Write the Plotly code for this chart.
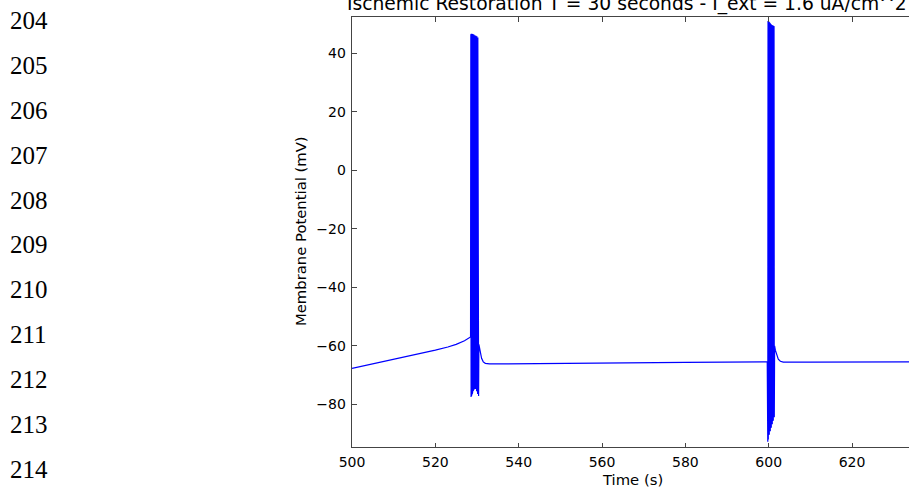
import plotly.graph_objects as go

# ---------------- data ----------------
line_numbers = ["204", "205", "206", "207", "208", "209", "210", "211", "212", "213", "214"]
title_text = "Ischemic Restoration T = 30 seconds - I_ext = 1.6 uA/cm^2"
x_label = "Time (s)"
y_label = "Membrane Potential (mV)"
x_ticks = [500, 520, 540, 560, 580, 600, 620]
y_ticks = [-80, -60, -40, -20, 0, 20, 40]

# slow depolarisation before first burst
t_pre = [500.0, 505.0, 510.0, 515.0, 520.0, 523.0, 525.0, 527.0, 528.45]
v_pre = [-67.7, -66.2, -64.7, -63.1, -61.5, -60.4, -59.5, -58.3, -57.0]

# first burst (spike peaks / troughs)
b1_peak_t = [528.52, 528.64, 528.76, 528.88, 529.00, 529.12, 529.24, 529.36,
             529.48, 529.60, 529.72, 529.84, 529.96, 530.08, 530.20, 530.32]
b1_peak_v = [46.5, 46.7, 46.7, 46.6, 46.6, 46.5, 46.4, 46.3,
             46.2, 46.1, 46.0, 45.9, 45.8, 45.6, 45.4, 45.2]
b1_trough_t = [528.58, 528.70, 528.82, 528.94, 529.06, 529.18, 529.30, 529.42,
               529.54, 529.66, 529.78, 529.90, 530.02, 530.14, 530.26, 530.38]
b1_trough_v = [-77.5, -77.2, -76.6, -76.0, -75.5, -75.0, -74.8, -74.6,
               -74.6, -74.8, -75.0, -75.5, -76.0, -76.5, -77.0, -77.2]

# recovery and plateau between bursts
t_mid = [530.45, 530.6, 530.8, 531.1, 531.5, 532.0, 533.0, 540.0, 560.0, 580.0, 599.65]
v_mid = [-59.5, -61.0, -62.6, -64.3, -65.5, -66.0, -66.2, -66.1, -65.9, -65.7, -65.5]

# second burst
b2_peak_t = [599.72, 599.84, 599.96, 600.08, 600.20, 600.32, 600.44,
             600.56, 600.68, 600.80, 600.92, 601.04, 601.16, 601.28]
b2_peak_v = [50.8, 51.0, 50.8, 50.6, 50.4, 50.2, 50.0,
             49.8, 49.6, 49.5, 49.4, 49.3, 49.2, 49.1]
b2_trough_t = [599.78, 599.90, 600.02, 600.14, 600.26, 600.38, 600.50,
               600.62, 600.74, 600.86, 600.98, 601.10, 601.22, 601.34]
b2_trough_v = [-92.8, -92.0, -91.2, -90.4, -89.8, -89.2, -88.6,
               -88.0, -87.4, -86.8, -86.2, -85.6, -85.0, -84.4]

# recovery after second burst
t_post = [601.42, 601.6, 601.9, 602.3, 602.8, 603.5, 610.0, 620.0, 634.0]
v_post = [-60.0, -61.5, -63.2, -64.6, -65.3, -65.6, -65.6, -65.6, -65.5]


def interleave(pt, pv, tt, tv):
    ts, vs = [], []
    for a, b, c, d in zip(pt, pv, tt, tv):
        ts += [a, c]
        vs += [b, d]
    return ts, vs


b1_t, b1_v = interleave(b1_peak_t, b1_peak_v, b1_trough_t, b1_trough_v)
b2_t, b2_v = interleave(b2_peak_t, b2_peak_v, b2_trough_t, b2_trough_v)
time = t_pre + b1_t + t_mid + b2_t + t_post
volt = v_pre + b1_v + v_mid + b2_v + v_post

# ---------------- layout geometry (pixels) ----------------
W, H = 909, 490
L, R, T, B = 352, 0, 17, 43
PW = W - L - R
PH = H - T - B
X_RANGE = [500, 500 + PW / 4.167]
Y_RANGE = [-94.6, 52.4]

FONT = "DejaVu Sans"
AXC = "#444444"
TICK_SIZE = 14


def px_x(px):
    return (px - L) / PW


def px_y(py):
    return (H - B - py) / PH


fig = go.Figure()
fig.add_trace(go.Scatter(x=time, y=volt, mode="lines",
                         line=dict(color="#0000ff", width=1.2),
                         hoverinfo="skip", showlegend=False))

fig.update_layout(
    width=W, height=H,
    margin=dict(l=L, r=R, t=T, b=B, pad=0),
    paper_bgcolor="white", plot_bgcolor="white",
    font=dict(family=FONT, color="black", size=TICK_SIZE),
    showlegend=False,
    xaxis=dict(range=X_RANGE, tickvals=x_ticks, ticktext=[str(v) for v in x_ticks],
               ticks="inside", ticklen=4.5, tickwidth=1, tickcolor=AXC,
               showline=True, linecolor=AXC, linewidth=1.3, mirror="ticks",
               showgrid=False, zeroline=False, ticklabelstandoff=2,
               tickfont=dict(family=FONT, size=TICK_SIZE, color="black")),
    yaxis=dict(range=Y_RANGE, tickvals=y_ticks,
               ticks="inside", ticklen=4.5, tickwidth=1, tickcolor=AXC,
               showline=True, linecolor=AXC, linewidth=1.3,
               showgrid=False, zeroline=False, ticklabelstandoff=2,
               tickfont=dict(family=FONT, size=TICK_SIZE, color="black")),
    yaxis2=dict(range=Y_RANGE, tickvals=y_ticks, overlaying="y", side="right",
                anchor="x", ticks="inside", ticklen=4.5, tickwidth=1, tickcolor=AXC,
                showline=False, showticklabels=False, showgrid=False, zeroline=False),
)

ann = []
# title
ann.append(dict(text=title_text, x=px_x(626.5), y=1, xref="paper", yref="paper",
                xanchor="center", yanchor="bottom", yshift=0, showarrow=False,
                font=dict(family=FONT, size=18.7, color="black")))
# y label
ann.append(dict(text=y_label, x=0, y=px_y(231), xref="paper", yref="paper",
                xshift=-51, xanchor="center", yanchor="middle", textangle=-90,
                showarrow=False, font=dict(family=FONT, size=14.8, color="black")))
# x label
ann.append(dict(text=x_label, x=px_x(632), y=px_y(479), xref="paper", yref="paper",
                xanchor="center", yanchor="middle", showarrow=False,
                font=dict(family=FONT, size=14.8, color="black")))
# line numbers of the surrounding document
for i, s in enumerate(line_numbers):
    ann.append(dict(text=s, x=px_x(8), y=px_y(20.5 + 44.9 * i), xref="paper", yref="paper",
                    xanchor="left", yanchor="middle", showarrow=False,
                    font=dict(family="Liberation Serif", size=25, color="black")))
fig.update_layout(annotations=ann)

fig.write_html(
    "out.html",
    config={"displayModeBar": False, "staticPlot": True},
    post_script="document.body.style.margin='0';document.body.style.overflow='hidden';",
)
